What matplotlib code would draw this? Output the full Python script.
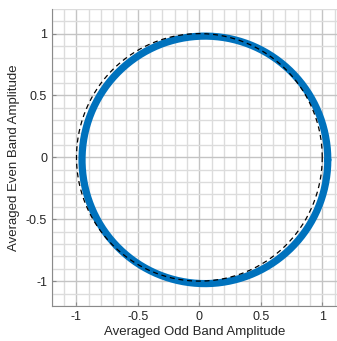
"""Ring of averaged odd/even band amplitudes against the unit circle."""

import matplotlib

matplotlib.use("Agg")
import matplotlib.pyplot as plt
import numpy as np
from matplotlib.ticker import MultipleLocator

ring_center = [0.045, -0.02]
ring_radius = 1.0
ref_radius = 1.0

x_ticks = [-1, -0.5, 0, 0.5, 1]
x_tick_labels = ["-1", "-0.5", "0", "0.5", "1"]
y_ticks = [-1, -0.5, 0, 0.5, 1]
y_tick_labels = ["-1", "-0.5", "0", "0.5", "1"]

plt.rcParams["font.family"] = ["Liberation Sans", "DejaVu Sans"]

fig = plt.figure(figsize=(3.37, 3.41), dpi=100)
ax = fig.add_axes([0.154, 0.103, 0.846, 0.871])

theta = np.linspace(0, 2 * np.pi, 400)
ax.plot(ring_center[0] + ring_radius * np.cos(theta),
        ring_center[1] + ring_radius * np.sin(theta),
        color="#0072BD", linewidth=5.2, solid_capstyle="round", zorder=3)
ax.plot(ref_radius * np.cos(theta), ref_radius * np.sin(theta),
        color="black", linestyle=(0, (4, 3)), linewidth=0.9, zorder=4)

ax.set_xlim(-1.2, 1.12)
ax.set_ylim(-1.2, 1.2)
ax.set_xticks(x_ticks, x_tick_labels)
ax.set_yticks(y_ticks, y_tick_labels)
ax.xaxis.set_minor_locator(MultipleLocator(0.1))
ax.yaxis.set_minor_locator(MultipleLocator(0.1))
ax.grid(which="major", color="#c4c4c4", linewidth=1.0)
ax.grid(which="minor", color="#dcdcdc", linewidth=1.0)
ax.set_axisbelow(True)

for side in ("top", "right"):
    ax.spines[side].set_visible(False)
for side in ("left", "bottom"):
    ax.spines[side].set_color("#8a8a8a")
    ax.spines[side].set_linewidth(0.8)

ax.tick_params(which="both", direction="in", colors="#8a8a8a",
               labelcolor="#262626", labelsize=9)
ax.tick_params(which="major", length=3)
ax.tick_params(which="minor", length=0)

ax.set_xlabel("Averaged Odd Band Amplitude", fontsize=9.5, color="#262626",
              labelpad=2)
ax.set_ylabel("Averaged Even Band Amplitude", fontsize=9.5, color="#262626",
              labelpad=4)

fig.savefig("out.png", dpi=100)
